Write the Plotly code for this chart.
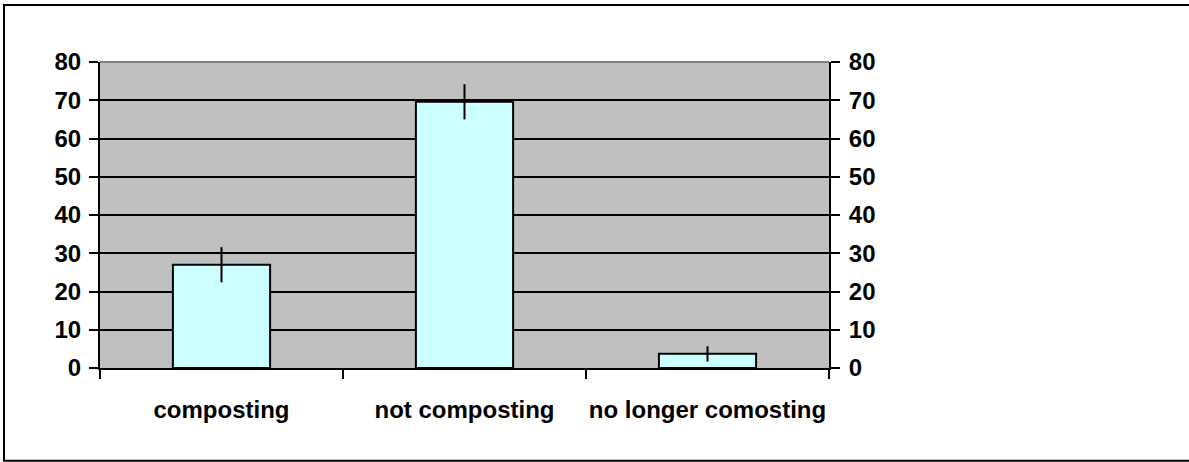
"""Composting survey bar chart with error bars."""

import plotly.graph_objects as go

categories = ["composting", "not composting", "no longer comosting"]
percent = [27.0, 69.6, 3.7]
error = [4.6, 4.6, 2.0]
y_ticks = [0, 10, 20, 30, 40, 50, 60, 70, 80]

FONT = {"family": "Liberation Sans, Arial, sans-serif", "size": 24,
        "color": "black", "weight": "bold"}

fig = go.Figure()
fig.add_trace(
    go.Bar(
        x=categories,
        y=percent,
        width=0.4,
        marker={"color": "#CCFFFF", "line": {"color": "black", "width": 2}},
        error_y={"type": "data", "array": error, "color": "black",
                 "thickness": 2, "width": 0},
        showlegend=False,
        hoverinfo="skip",
    )
)
# small right-hand arm of the Excel style error marker
fig.add_trace(
    go.Scatter(
        x=categories,
        y=percent,
        mode="markers",
        marker={"size": 2, "color": "black"},
        error_x={"type": "constant", "value": 0.035, "valueminus": 0,
                 "symmetric": False, "color": "black", "thickness": 3,
                 "width": 0},
        hoverinfo="skip",
        showlegend=False,
    )
)
# invisible copy so the right-hand axis gets drawn
fig.add_trace(
    go.Scatter(
        x=categories,
        y=percent,
        yaxis="y2",
        mode="markers",
        marker={"opacity": 0},
        hoverinfo="skip",
        showlegend=False,
    )
)

axis_common = {
    "range": [0, 80],
    "tickvals": y_ticks,
    "ticks": "outside",
    "ticklen": 9,
    "tickwidth": 2,
    "tickcolor": "black",
    "showline": True,
    "linecolor": "black",
    "linewidth": 2,
    "tickfont": FONT,
    "automargin": False,
}

fig.update_layout(
    width=1189,
    height=462,
    margin={"l": 100, "r": 360, "t": 62, "b": 94},
    paper_bgcolor="white",
    plot_bgcolor="#C0C0C0",
    bargap=0.6,
    xaxis={
        "type": "category",
        "tickson": "boundaries",
        "ticks": "outside",
        "ticklen": 9,
        "tickwidth": 2,
        "tickcolor": "black",
        "showline": True,
        "linecolor": "black",
        "linewidth": 2,
        "showgrid": False,
        "tickfont": FONT,
        "tickangle": 0,
        "ticklabelstandoff": 19,
        "automargin": False,
    },
    xaxis2={
        "overlaying": "x",
        "range": [-0.5, 2.5],
        "tickvals": [-0.5, 0.5, 1.5, 2.5],
        "ticks": "inside",
        "ticklen": 8,
        "tickwidth": 2,
        "tickcolor": "black",
        "showticklabels": False,
        "showgrid": False,
        "side": "bottom",
        "anchor": "y",
    },
    yaxis={**axis_common, "showgrid": True, "gridcolor": "black",
           "gridwidth": 2, "zeroline": False, "ticklabelstandoff": 3},
    yaxis2={**axis_common, "overlaying": "y", "side": "right",
            "showgrid": False, "zeroline": False, "ticklabelstandoff": 4},
)

# plot area top edge (grey) and the outer chart frame
fig.add_shape(type="line", xref="x domain", yref="y domain",
              x0=0, x1=1, y0=1, y1=1, line={"color": "#808080", "width": 2})
fig.add_shape(type="rect", xref="paper", yref="paper",
              x0=-0.1317, x1=1.52, y0=-0.303, y1=1.186,
              line={"color": "black", "width": 2}, layer="above")

# drop the default page margin so the figure sits at the window corner
fig.write_html(
    "out.html",
    config={"displayModeBar": False},
    post_script="document.body.style.margin = '0';",
)
